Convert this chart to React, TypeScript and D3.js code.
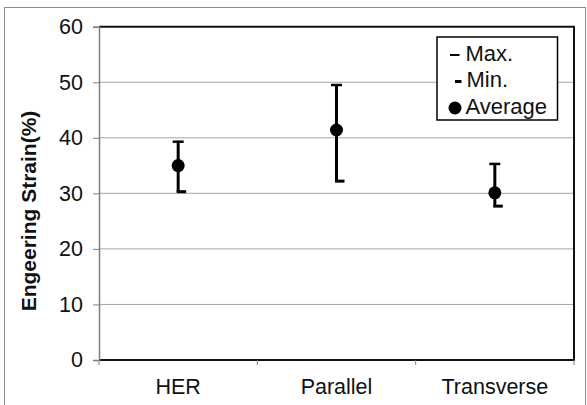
import React, { useRef, useEffect } from "react";
import * as d3 from "d3";

const categories = ["HER", "Parallel", "Transverse"];
const maxValues = [39.3, 49.5, 35.3];
const minValues = [30.3, 32.2, 27.7];
const avgValues = [35.0, 41.4, 30.1];
const yTicks = [0, 10, 20, 30, 40, 50, 60];
const legendLabels = ["Max.", "Min.", "Average"];

const FONT = "'Liberation Sans', Arial, sans-serif";

const App: React.FC = () => {
  const svgRef = useRef<SVGSVGElement>(null);
  const width = 587;
  const height = 405;

  useEffect(() => {
    if (!svgRef.current) return;
    const svg = d3.select(svgRef.current);
    svg.selectAll("*").remove();

    const margin = { top: 26.7, right: 13, bottom: 45, left: 99 };

    // outer chart frame
    svg
      .append("rect")
      .attr("x", 4.5)
      .attr("y", 7.5)
      .attr("width", 581)
      .attr("height", 410)
      .attr("fill", "#fff")
      .attr("stroke", "#8c8c8c")
      .attr("stroke-width", 1);

    const x = d3
      .scaleBand()
      .domain(categories)
      .range([margin.left, width - margin.right])
      .padding(0);

    const y = d3
      .scaleLinear()
      .domain([0, 60])
      .range([height - margin.bottom, margin.top]);

    const x0 = margin.left;
    const x1 = width - margin.right;
    const yBottom = y(0);
    const yTop = y(60);

    // gridlines
    svg
      .append("g")
      .selectAll("line")
      .data(yTicks.filter((t) => t > 0 && t < 60))
      .enter()
      .append("line")
      .attr("x1", x0)
      .attr("x2", x1)
      .attr("y1", (d) => y(d))
      .attr("y2", (d) => y(d))
      .attr("stroke", "#a6a6a6")
      .attr("stroke-width", 1);

    // plot frame: top, right, bottom black; left axis gray
    svg
      .append("path")
      .attr("d", `M${x0},${yTop}H${x1}V${yBottom}H${x0}`)
      .attr("fill", "none")
      .attr("stroke", "#111")
      .attr("stroke-width", 2);

    // y axis
    const yAxis = d3
      .axisLeft(y)
      .tickValues(yTicks)
      .tickSize(6)
      .tickPadding(10)
      .tickFormat((d) => `${d}`);
    const yG = svg
      .append("g")
      .attr("transform", `translate(${x0},0)`)
      .call(yAxis);
    yG.select(".domain").attr("stroke", "#7f7f7f").attr("stroke-width", 1.5);
    yG.selectAll(".tick line").attr("stroke", "#7f7f7f");
    yG.selectAll(".tick text")
      .attr("font-family", FONT)
      .attr("font-size", 21.5)
      .attr("fill", "#111");

    // x axis ticks at band boundaries
    const xAxis = d3.axisBottom(x).tickSize(0).tickPadding(19);
    const xG = svg
      .append("g")
      .attr("transform", `translate(0,${yBottom})`)
      .call(xAxis);
    xG.select(".domain").remove();
    xG.selectAll(".tick text")
      .attr("font-family", FONT)
      .attr("font-size", 21.5)
      .attr("fill", "#111");
    const bounds = [...categories.map((c) => x(c) ?? 0), x1];
    svg
      .append("g")
      .selectAll("line")
      .data(bounds)
      .enter()
      .append("line")
      .attr("x1", (d) => d)
      .attr("x2", (d) => d)
      .attr("y1", yBottom)
      .attr("y2", yBottom + 5)
      .attr("stroke", "#7f7f7f")
      .attr("stroke-width", 1);

    // y axis title
    svg
      .append("text")
      .attr("transform", `translate(36,211) rotate(-90)`)
      .attr("text-anchor", "middle")
      .attr("font-family", FONT)
      .attr("font-weight", "bold")
      .attr("font-size", 21)
      .attr("fill", "#111")
      .text("Engeering Strain(%)");

    const cx = (i: number) => (x(categories[i]) ?? 0) + x.bandwidth() / 2;
    const idx = categories.map((_, i) => i);

    // vertical range lines
    svg
      .append("g")
      .selectAll("line")
      .data(idx)
      .enter()
      .append("line")
      .attr("x1", (i) => cx(i))
      .attr("x2", (i) => cx(i))
      .attr("y1", (i) => y(maxValues[i]))
      .attr("y2", (i) => y(minValues[i]))
      .attr("stroke", "#000")
      .attr("stroke-width", 3);

    // max caps (centered dash)
    svg
      .append("g")
      .selectAll("line")
      .data(idx)
      .enter()
      .append("line")
      .attr("x1", (i) => cx(i) - 5.5)
      .attr("x2", (i) => cx(i) + 5.5)
      .attr("y1", (i) => y(maxValues[i]))
      .attr("y2", (i) => y(maxValues[i]))
      .attr("stroke", "#000")
      .attr("stroke-width", 2.5);

    // min caps (short dash to the right)
    svg
      .append("g")
      .selectAll("line")
      .data(idx)
      .enter()
      .append("line")
      .attr("x1", (i) => cx(i) - 1.5)
      .attr("x2", (i) => cx(i) + 8)
      .attr("y1", (i) => y(minValues[i]))
      .attr("y2", (i) => y(minValues[i]))
      .attr("stroke", "#000")
      .attr("stroke-width", 3);

    // averages
    svg
      .append("g")
      .selectAll("circle")
      .data(idx)
      .enter()
      .append("circle")
      .attr("cx", (i) => cx(i))
      .attr("cy", (i) => y(avgValues[i]))
      .attr("r", 6.5)
      .attr("fill", "#000");

    // legend
    const legend = svg.append("g").attr("transform", "translate(437,37)");
    legend
      .append("rect")
      .attr("width", 120.5)
      .attr("height", 83)
      .attr("fill", "#fff")
      .attr("stroke", "#000")
      .attr("stroke-width", 1.5);

    legendLabels.forEach((label, i) => {
      const g = legend.append("g").attr("transform", `translate(0,${18 + i * 26.5})`);
      if (i === 0) {
        g.append("line")
          .attr("x1", 13)
          .attr("x2", 22.5)
          .attr("y1", 0)
          .attr("y2", 0)
          .attr("stroke", "#000")
          .attr("stroke-width", 2);
      } else if (i === 1) {
        g.append("line")
          .attr("x1", 18)
          .attr("x2", 24.5)
          .attr("y1", 0)
          .attr("y2", 0)
          .attr("stroke", "#000")
          .attr("stroke-width", 3);
      } else {
        g.append("circle").attr("cx", 18).attr("cy", 0).attr("r", 6.5).attr("fill", "#000");
      }
      g.append("text")
        .attr("x", i === 1 ? 29.5 : 28.5)
        .attr("y", 0)
        .attr("dy", "0.25em")
        .attr("font-family", FONT)
        .attr("font-size", 22)
        .attr("fill", "#111")
        .text(label);
    });
  }, []);

  return (
    <svg
      ref={svgRef}
      width={width}
      height={height}
      style={{ position: "absolute", left: 0, top: 0 }}
    ></svg>
  );
};

export default App;
